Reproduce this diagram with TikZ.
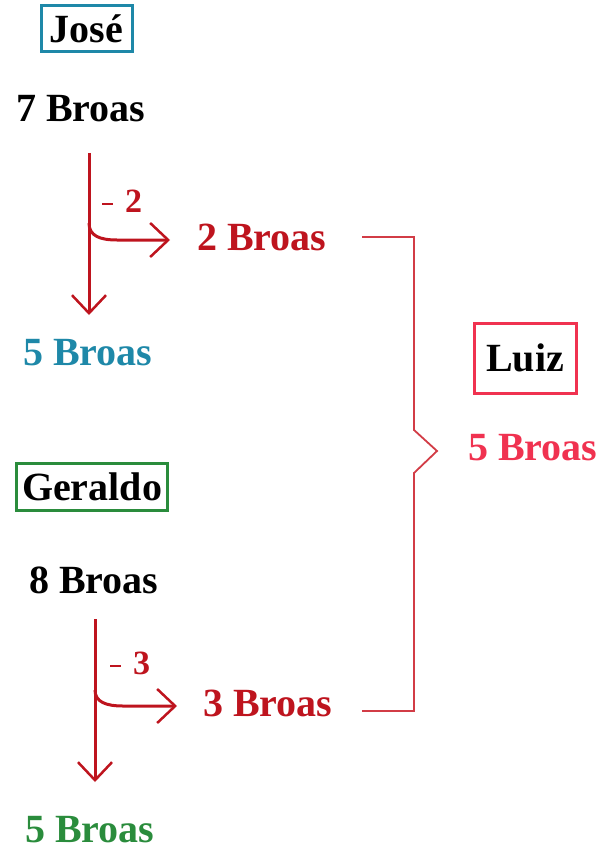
\documentclass[tikz,border=0pt]{standalone}
\usepackage{fontspec}
\setmainfont{Liberation Serif}
\usetikzlibrary{arrows.meta}
\definecolor{teal1}{HTML}{1E88A8}
\definecolor{red1}{HTML}{BE141E}
\definecolor{pink1}{HTML}{F03250}
\definecolor{green1}{HTML}{2A8C3C}
\definecolor{brk1}{HTML}{D23C46}
\tikzset{
  lbl/.style={inner sep=0pt, anchor=base west, font=\fontsize{40}{44}\selectfont\bfseries},
  namebox/.style={draw, line width=3pt, inner sep=0pt, font=\fontsize{40}{44}\selectfont\bfseries, text=black},
  minus/.style={inner sep=0pt, anchor=base west, text=red1, font=\fontsize{34}{36}\selectfont\bfseries},
  flow/.style={draw=red1, line width=3pt, -{Straight Barb[length=18pt,width=34pt,line width=2.5pt]}},
  brk/.style={draw=brk1, line width=1.8pt}
}
\newcommand{\thindash}{\rule[7pt]{11pt}{1.6pt}}
\begin{document}
\begin{tikzpicture}[x=1pt,y=-1pt]
\useasboundingbox (0,0) rectangle (603,850);
% José
\node[namebox, draw=teal1, minimum width=91pt, minimum height=46pt] (jose) at (86.5,29) {José};
\node[lbl] (j7) at (16,122) {7 Broas};
\coordinate (jtop) at (89,153);
\coordinate (jend) at (89,315);
\coordinate (jfork) at (89,223);
\coordinate (jout) at (170,240);
\draw[flow] (jtop) -- (jend);
\draw[flow] (jfork) .. controls (89,236) and (100,240) .. (117,240) -- (jout);
\node[minus] (m2) at (102,212) {\thindash\hspace{12pt}2};
\node[lbl, text=red1] (j2) at (197,250) {2 Broas};
\node[lbl, text=teal1] (j5) at (23,365) {5 Broas};
% Geraldo
\node[namebox, draw=green1, minimum width=151pt, minimum height=47pt] (ger) at (92,486.5) {Geraldo};
\node[lbl] (g8) at (29,593) {8 Broas};
\coordinate (gtop) at (95,619);
\coordinate (gend) at (95,782);
\coordinate (gfork) at (95,690);
\coordinate (gout) at (177,706);
\draw[flow] (gtop) -- (gend);
\draw[flow] (gfork) .. controls (95,702) and (106,706) .. (123,706) -- (gout);
\node[minus] (m3) at (110,674) {\thindash\hspace{12pt}3};
\node[lbl, text=red1] (g3) at (203,716) {3 Broas};
\node[lbl, text=green1] (g5) at (25,842) {5 Broas};
% Luiz
\node[namebox, draw=pink1, minimum width=102pt, minimum height=70pt] (luiz) at (525,358) {Luiz};
\node[lbl, text=pink1] (l5) at (468,460) {5 Broas};
% bracket
\coordinate (b1) at (362,237);
\coordinate (b2) at (362,711);
\draw[brk] (b1) -- (414,237) -- (414,430) -- (437,451) -- (414,473) -- (414,711) -- (b2);
\end{tikzpicture}
\end{document}
